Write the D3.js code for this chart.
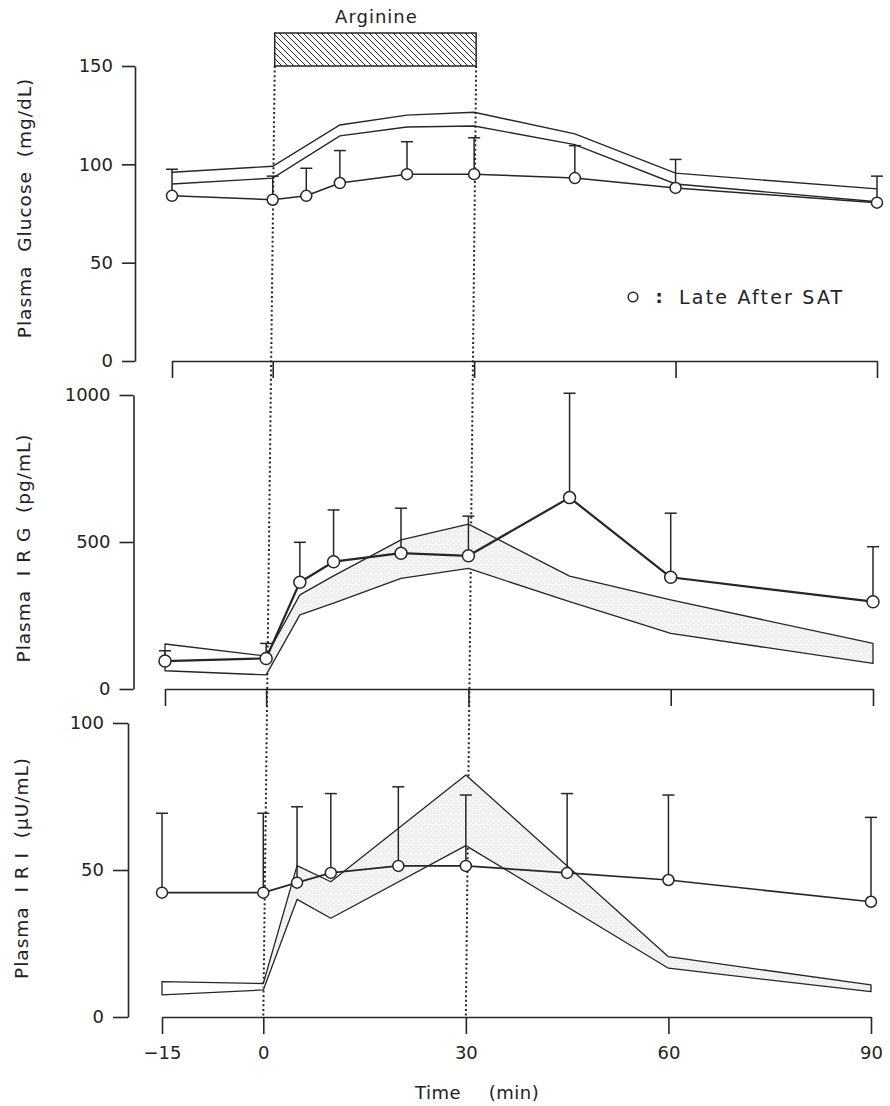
<!DOCTYPE html>
<html><head><meta charset="utf-8">
<script src="https://cdn.jsdelivr.net/npm/d3@7"></script>
<style>body{margin:0;background:#fff}svg text{font-family:"DejaVu Sans",sans-serif;fill:#222}</style>
</head><body><svg id="c" width="890" height="1106"></svg>
<script>
// ---- data ----
const times = [-15, 0, 5, 10, 20, 30, 45, 60, 90];
const xTicks = [-15, 0, 30, 60, 90];
const infusion = [0, 30];

const glucoseMean = [84, 82, 84, 90.5, 95, 95, 93, 88, 80.5];
const glucoseSE   = [13.5, 12, 14, 16.5, 16.5, 18.5, 16.5, 14.5, 13.5];
const glucoseBandT = [-15, 0, 10, 20, 30, 45, 60, 90];
const glucoseBandU = [96, 99, 120, 125, 126.5, 115.5, 95.5, 87.5];
const glucoseBandL = [90, 93, 114.5, 119, 119.5, 110, 90, 81];
const glucoseTicks = [0, 50, 100, 150];

const irgMean = [95, 104, 363, 433, 462, 453, 651, 380, 297];
const irgSE   = [35, 51, 136, 176, 153, 135, 355, 218, 187];
const irgBandT = [-15, 0, 5, 10, 20, 30, 45, 60, 90];
const irgBandU = [153, 112, 320, 385, 507, 561, 384, 303, 155];
const irgBandL = [62, 48, 252, 292, 376, 410, 297, 189, 87];
const irgTicks = [0, 500, 1000];

const iriMean = [42.3, 42.3, 45.7, 49, 51.4, 51.4, 49, 46.6, 39.2];
const iriSE   = [27, 27, 25.8, 27, 26.9, 24.1, 27, 28.9, 28.7];
const iriBandT = [-15, 0, 5, 10, 30, 60, 90];
const iriBandU = [12, 11.4, 51.5, 46, 82.3, 20.5, 10.9];
const iriBandL = [7.5, 9.2, 40, 33.6, 58.3, 16.6, 8.6];
const iriTicks = [0, 50, 100];

const labels = {
  glu: "Plasma  Glucose  (mg/dL)",
  irg: "Plasma  I R G  (pg/mL)",
  iri: "Plasma  I R I  (\u00B5U/mL)",
  bar: "Arginine",
  legend: "Late After SAT",
  xTitle: "Time",
  xUnit: "(min)"
};

// ---- layout ----
const ink = "#262626";
const svg = d3.select("#c");
const defs = svg.append("defs");
const hatch = defs.append("pattern").attr("id","hatch").attr("patternUnits","userSpaceOnUse")
  .attr("width",6).attr("height",6);
hatch.append("path").attr("d","M-1,-1L7,7M-1,5L1,7M5,-1L7,1").attr("stroke",ink).attr("stroke-width",1);
const stip = defs.append("pattern").attr("id","stip").attr("patternUnits","userSpaceOnUse")
  .attr("width",5).attr("height",5);
stip.append("rect").attr("width",5).attr("height",5).attr("fill","#f4f4f4");
stip.append("circle").attr("cx",1).attr("cy",1).attr("r",0.6).attr("fill","#cfcfcf");
stip.append("circle").attr("cx",3.5).attr("cy",3.2).attr("r",0.5).attr("fill","#dadada");

const panels = [
  {id:"glu", mean:glucoseMean, se:glucoseSE, bt:glucoseBandT, bu:glucoseBandU, bl:glucoseBandL,
   ticks:glucoseTicks, dom:[0,150], yr:[361,66], xr:[172,877], ax:135, tsz:13, r:5.5, lw:1.5, fill:false,
   labX:25, labY:208, xlabels:false},
  {id:"irg", mean:irgMean, se:irgSE, bt:irgBandT, bu:irgBandU, bl:irgBandL,
   ticks:irgTicks, dom:[0,1000], yr:[689,395], xr:[165,873], ax:133.5, tsz:14, r:6, lw:2.2, fill:true,
   labX:24, labY:548, xlabels:false},
  {id:"iri", mean:iriMean, se:iriSE, bt:iriBandT, bu:iriBandU, bl:iriBandL,
   ticks:iriTicks, dom:[0,100], yr:[1017,723], xr:[162,871], ax:128, tsz:15, r:5.5, lw:1.7, fill:true,
   labX:22, labY:868, xlabels:true}
];

panels.forEach(p => {
  p.x = d3.scaleLinear().domain([-15,90]).range(p.xr);
  p.y = d3.scaleLinear().domain(p.dom).range(p.yr);
});

// dotted vertical lines (drawn first, under marks)
const pTop = panels[0], pBot = panels[2];
infusion.forEach(t => {
  svg.append("line")
    .attr("x1", pTop.x(t)+2).attr("y1", pTop.y(150))
    .attr("x2", pBot.x(t)).attr("y2", pBot.y(0))
    .attr("stroke", ink).attr("stroke-width", 2).attr("stroke-dasharray","2,2.6");
});

// arginine bar
svg.append("rect")
  .attr("x", pTop.x(infusion[0])+2).attr("y", pTop.y(150)-33)
  .attr("width", pTop.x(infusion[1]) - pTop.x(infusion[0])).attr("height", 33)
  .attr("fill","url(#hatch)").attr("stroke",ink).attr("stroke-width",1.5);
svg.append("text").attr("x", (pTop.x(infusion[0])+pTop.x(infusion[1]))/2+3).attr("y", 17)
  .attr("dy","0.35em").attr("text-anchor","middle").attr("font-size",18).attr("letter-spacing",1).text(labels.bar);

panels.forEach(p => {
  const g = svg.append("g");
  // y axis
  const ya = d3.axisLeft(p.y).tickValues(p.ticks).tickSize(p.tsz).tickSizeOuter(0).tickPadding(9).tickFormat(d3.format("d"));
  const yg = g.append("g").attr("transform",`translate(${p.ax},0)`).call(ya);
  yg.selectAll("path,line").attr("stroke",ink).attr("stroke-width",1.6);
  yg.selectAll("text").attr("font-size",18).attr("fill","#222").style("font-family","DejaVu Sans");
  // x axis
  const xa = d3.axisBottom(p.x).tickValues(xTicks).tickSize(17).tickSizeOuter(0).tickPadding(12)
    .tickFormat(d => p.xlabels ? (d<0 ? "\u2212"+Math.abs(d) : d) : "");
  const xg = g.append("g").attr("transform",`translate(0,${p.y(0)})`).call(xa);
  xg.selectAll("path,line").attr("stroke",ink).attr("stroke-width",1.6);
  xg.selectAll("text").attr("font-size",18).attr("fill","#222").style("font-family","DejaVu Sans");
  // y label
  g.append("text").attr("transform",`translate(${p.labX},${p.labY}) rotate(-90)`)
    .attr("text-anchor","middle").attr("dy","0.35em").attr("font-size",18.5).attr("letter-spacing",1)
    .style("white-space","pre").text(labels[p.id]);

  // band
  const band = p.bt.map((t,i)=>({t, u:p.bu[i], l:p.bl[i]}));
  if (p.fill) {
    const area = d3.area().x(d=>p.x(d.t)).y0(d=>p.y(d.l)).y1(d=>p.y(d.u));
    g.append("path").datum(band.filter(d=>d.t>=0)).attr("d", area).attr("fill","url(#stip)").attr("stroke","none");
    g.append("path").datum(band).attr("d", area).attr("fill","none")
      .attr("stroke",ink).attr("stroke-width",1.3).attr("stroke-linejoin","round");
  } else {
    const lu = d3.line().x(d=>p.x(d.t)).y(d=>p.y(d.u));
    const ll = d3.line().x(d=>p.x(d.t)).y(d=>p.y(d.l));
    g.append("path").datum(band).attr("d", lu).attr("fill","none").attr("stroke",ink).attr("stroke-width",1.4);
    g.append("path").datum(band).attr("d", ll).attr("fill","none").attr("stroke",ink).attr("stroke-width",1.4);
  }

  // error bars
  const pts = times.map((t,i)=>({t, m:p.mean[i], s:p.se[i]}));
  g.selectAll(".eb").data(pts).enter().append("line")
    .attr("x1",d=>p.x(d.t)).attr("x2",d=>p.x(d.t))
    .attr("y1",d=>p.y(d.m)).attr("y2",d=>p.y(d.m+d.s))
    .attr("stroke",ink).attr("stroke-width",1.5);
  g.selectAll(".cap").data(pts).enter().append("line")
    .attr("x1",d=>p.x(d.t)-6).attr("x2",d=>p.x(d.t)+6)
    .attr("y1",d=>p.y(d.m+d.s)).attr("y2",d=>p.y(d.m+d.s))
    .attr("stroke",ink).attr("stroke-width",1.5);
  // mean line
  g.append("path").datum(pts).attr("d", d3.line().x(d=>p.x(d.t)).y(d=>p.y(d.m)))
    .attr("fill","none").attr("stroke",ink).attr("stroke-width",p.lw).attr("stroke-linejoin","round");
  g.selectAll(".pt").data(pts).enter().append("circle")
    .attr("cx",d=>p.x(d.t)).attr("cy",d=>p.y(d.m)).attr("r",p.r)
    .attr("fill","#fff").attr("stroke",ink).attr("stroke-width",1.5);
});

// legend
const lg = svg.append("g");
lg.append("circle").attr("cx",633).attr("cy",297).attr("r",4.8).attr("fill","#fff").attr("stroke",ink).attr("stroke-width",1.5);
lg.append("text").attr("x",659).attr("y",297).attr("dy","0.35em").attr("text-anchor","middle").attr("font-size",18).attr("font-weight","bold").text(":");
lg.append("text").attr("x",679).attr("y",297).attr("dy","0.35em").attr("font-size",19).attr("letter-spacing",2.2).text(labels.legend);

// x title
svg.append("text").attr("x",438).attr("y",1093).attr("dy","0.35em").attr("text-anchor","middle").attr("font-size",18).attr("letter-spacing",0.5).text(labels.xTitle);
svg.append("text").attr("x",514).attr("y",1093).attr("dy","0.35em").attr("text-anchor","middle").attr("font-size",18).attr("letter-spacing",0.5).text(labels.xUnit);
</script></body></html>
